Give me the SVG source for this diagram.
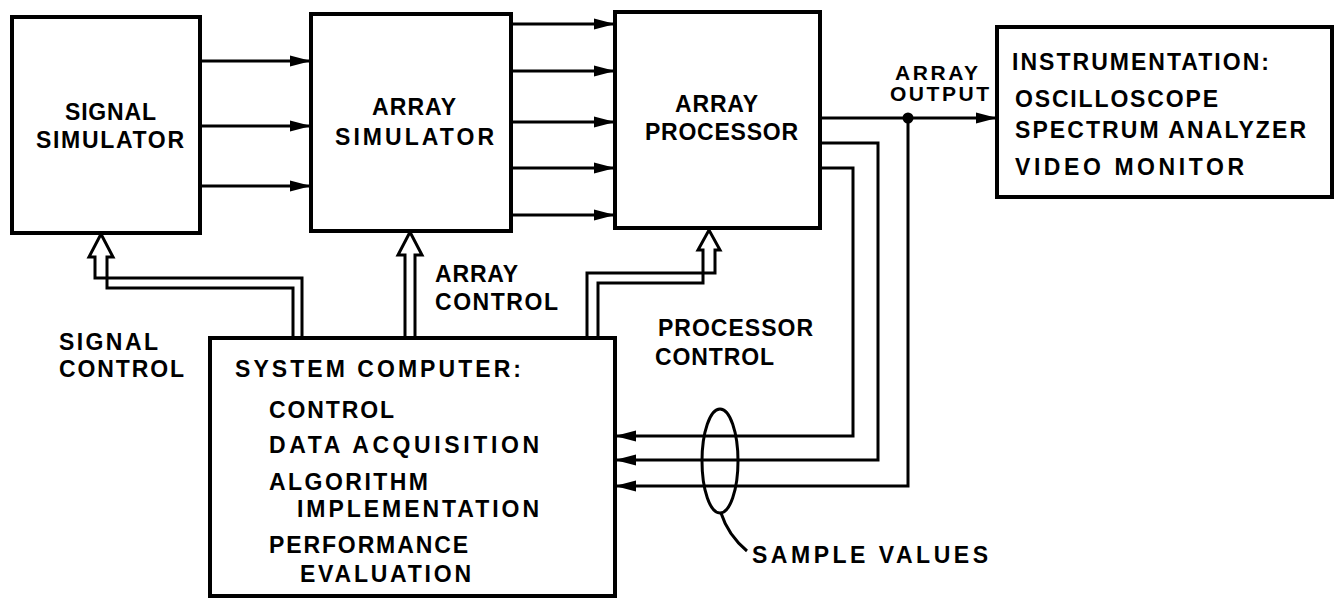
<svg xmlns="http://www.w3.org/2000/svg" width="1337" height="599" viewBox="0 0 1337 599">
<style>
.box{fill:#fff;stroke:#000;stroke-width:4}
.ln{fill:none;stroke:#000;stroke-width:3}
.hollow{fill:#fff;stroke:#000;stroke-width:3;stroke-linejoin:miter}
text{font-family:"Liberation Sans",Arial,sans-serif;font-weight:bold;font-size:23px;fill:#000}
.sm{font-size:21px}
</style>
<defs>
<marker id="arr" markerUnits="userSpaceOnUse" markerWidth="22" markerHeight="12" refX="21" refY="6" orient="auto">
<path d="M0,0.5 L21,6 L0,11.5 z" fill="#000"/>
</marker>
</defs>
<rect width="1337" height="599" fill="#fff"/>
<g id="connectors">
<line class="ln" x1="200" y1="61" x2="311" y2="61" marker-end="url(#arr)"/>
<line class="ln" x1="200" y1="126" x2="311" y2="126" marker-end="url(#arr)"/>
<line class="ln" x1="200" y1="186" x2="311" y2="186" marker-end="url(#arr)"/>
<line class="ln" x1="511" y1="24" x2="615" y2="24" marker-end="url(#arr)"/>
<line class="ln" x1="511" y1="71" x2="615" y2="71" marker-end="url(#arr)"/>
<line class="ln" x1="511" y1="122" x2="615" y2="122" marker-end="url(#arr)"/>
<line class="ln" x1="511" y1="168" x2="615" y2="168" marker-end="url(#arr)"/>
<line class="ln" x1="511" y1="215" x2="615" y2="215" marker-end="url(#arr)"/>
<line class="ln" x1="820" y1="118" x2="997" y2="118" marker-end="url(#arr)"/>
<circle cx="908" cy="118" r="5.5" fill="#000"/>
<polyline class="ln" points="820,168 853,168 853,436 615,436" marker-end="url(#arr)"/>
<polyline class="ln" points="820,143 878,143 878,460 615,460" marker-end="url(#arr)"/>
<polyline class="ln" points="908,118 908,486 615,486" marker-end="url(#arr)"/>
<path class="hollow" d="M293,338 L293,288 L107,288 L107,257 L113,257 L101,234 L89,257 L95,257 L95,278 L302,278 L302,338"/>
<path class="hollow" d="M405,338 L405,255 L398,255 L410,232 L422,255 L415,255 L415,338"/>
<path class="hollow" d="M598,338 L598,283 L703,283 L703,250 L698,250 L709,230 L720,250 L715,250 L715,273 L587,273 L587,338"/>
<ellipse cx="720" cy="461" rx="18" ry="52" fill="none" stroke="#000" stroke-width="3"/>
<path class="ln" d="M721,513 Q728,535 747,551" stroke-width="2.5"/>
</g>
<g id="signal-simulator">
<rect class="box" x="12" y="17" width="188" height="216"/>
<text x="65" y="120" textLength="91" lengthAdjust="spacing">SIGNAL</text>
<text x="36" y="148" textLength="148" lengthAdjust="spacing">SIMULATOR</text>
</g>
<g id="array-simulator">
<rect class="box" x="311" y="14" width="200" height="217"/>
<text x="372" y="115" textLength="84" lengthAdjust="spacing">ARRAY</text>
<text x="335" y="145" textLength="159" lengthAdjust="spacing">SIMULATOR</text>
</g>
<g id="array-processor">
<rect class="box" x="615" y="12" width="205" height="216"/>
<text x="675" y="112" textLength="83" lengthAdjust="spacing">ARRAY</text>
<text x="645" y="140" textLength="153" lengthAdjust="spacing">PROCESSOR</text>
</g>
<g id="instrumentation">
<rect class="box" x="997" y="27" width="335" height="170"/>
<text x="1012" y="70" textLength="257" lengthAdjust="spacing">INSTRUMENTATION:</text>
<text x="1015" y="107" textLength="203" lengthAdjust="spacing">OSCILLOSCOPE</text>
<text x="1015" y="138" textLength="291" lengthAdjust="spacing">SPECTRUM ANALYZER</text>
<text x="1015" y="175" textLength="229" lengthAdjust="spacing">VIDEO MONITOR</text>
</g>
<g id="system-computer">
<rect class="box" x="210" y="338" width="405" height="258"/>
<text x="235" y="377" textLength="286" lengthAdjust="spacing">SYSTEM COMPUTER:</text>
<text x="269" y="418" textLength="125" lengthAdjust="spacing">CONTROL</text>
<text x="269" y="453" textLength="270" lengthAdjust="spacing">DATA ACQUISITION</text>
<text x="269" y="490" textLength="159" lengthAdjust="spacing">ALGORITHM</text>
<text x="297" y="517" textLength="242" lengthAdjust="spacing">IMPLEMENTATION</text>
<text x="269" y="553" textLength="199" lengthAdjust="spacing">PERFORMANCE</text>
<text x="300" y="582" textLength="171" lengthAdjust="spacing">EVALUATION</text>
</g>
<g id="labels">
<text class="sm" x="895" y="80" textLength="83" lengthAdjust="spacing">ARRAY</text>
<text class="sm" x="890" y="101" textLength="99" lengthAdjust="spacing">OUTPUT</text>
<text x="59" y="350" textLength="99" lengthAdjust="spacing">SIGNAL</text>
<text x="59" y="377" textLength="125" lengthAdjust="spacing">CONTROL</text>
<text x="435" y="282" textLength="83" lengthAdjust="spacing">ARRAY</text>
<text x="435" y="310" textLength="123" lengthAdjust="spacing">CONTROL</text>
<text x="658" y="336" textLength="155" lengthAdjust="spacing">PROCESSOR</text>
<text x="655" y="365" textLength="119" lengthAdjust="spacing">CONTROL</text>
<text x="752" y="563" textLength="236" lengthAdjust="spacing">SAMPLE VALUES</text>
</g>
</svg>
